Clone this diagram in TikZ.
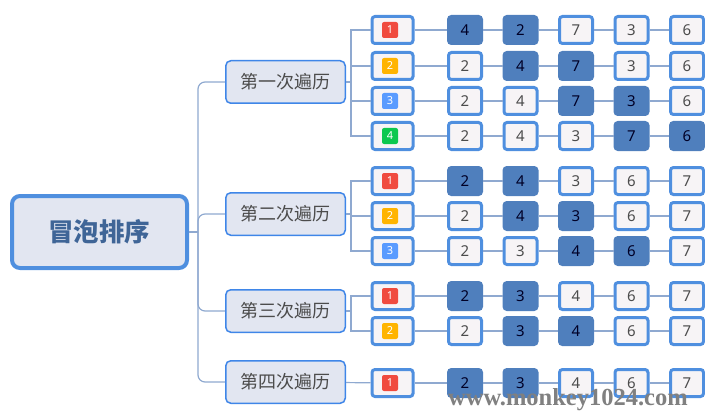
\documentclass[tikz,border=0pt]{standalone}
\usepackage{xcolor}
\usepackage{fontspec}
\setmainfont{Noto Sans}
\newfontfamily\cjk{Noto Sans CJK SC}
\newfontfamily\markfont{Liberation Serif}
\usetikzlibrary{positioning}
\definecolor{edgeblue}{HTML}{4F8FDF}
\definecolor{passblue}{HTML}{3F86E8}
\definecolor{hotblue}{HTML}{4F7FBD}
\definecolor{linkblue}{HTML}{8FA9D0}
\definecolor{paleblue}{HTML}{E2E6F1}
\definecolor{palecell}{HTML}{F7F4F6}
\definecolor{badred}{HTML}{F04B3F}
\definecolor{badyellow}{HTML}{FFB400}
\definecolor{badblue}{HTML}{5A9BFF}
\definecolor{badgreen}{HTML}{0CC84F}
\tikzstyle{rootbox} = [draw=edgeblue, line width=4pt, fill=paleblue, rounded corners=8pt, minimum width=175pt, minimum height=72pt, text=hotblue!80!black, font=\cjk\bfseries\fontsize{25.5}{28}\selectfont]
\tikzstyle{passbox} = [draw=passblue, line width=1.5pt, fill=paleblue, rounded corners=5pt, minimum width=119.5pt, minimum height=42.5pt, text=black!70, font=\cjk\fontsize{18}{20}\selectfont]
\tikzstyle{tagbox} = [draw=edgeblue, line width=3pt, fill=palecell, rounded corners=3pt, minimum width=41pt, minimum height=27pt]
\tikzstyle{cell} = [draw=edgeblue, line width=3pt, fill=palecell, rounded corners=3pt, minimum width=33pt, minimum height=27pt, text=black!70, font=\fontsize{15}{17}\selectfont]
\tikzstyle{hot} = [cell, draw=hotblue, fill=hotblue, text=black!85!blue]
\tikzstyle{badge} = [rounded corners=2pt, minimum size=16pt, inner sep=0pt, xshift=-2.5pt, text=white, font=\bfseries\fontsize{11}{12}\selectfont]
\tikzstyle{link} = [draw=linkblue, line width=1.2pt]
\tikzstyle{trunk} = [link, rounded corners=7pt, to path={|- (\tikztotarget)}]
\tikzstyle{limb} = [link, to path={-- ++(5,0) |- (\tikztotarget)}]
\begin{document}
\begin{tikzpicture}[x=1pt, y=-1pt, node distance=55.5pt]
\useasboundingbox (0,0) rectangle (705,412);

% Root and passes
\node (root) [rootbox] at (99.5,232) {冒泡排序};
\node (passa) [passbox] at (285.5,82) {第一次遍历};
\node (passb) [passbox] at (285.5,214) {第二次遍历};
\node (passc) [passbox] at (285.5,311) {第三次遍历};
\node (passd) [passbox] at (285.5,382) {第四次遍历};
\coordinate (fork) at (198,232);

% First pass
\node (taga) [tagbox] at (392.5,30) {};
\node (tagb) [tagbox] at (392.5,66) {};
\node (tagc) [tagbox] at (392.5,101) {};
\node (tagd) [tagbox] at (392.5,136) {};
\node (a1) [hot, right of=taga, xshift=17pt] {4};
\node (a2) [hot, right of=a1] {2};
\node (a3) [cell, right of=a2] {7};
\node (a4) [cell, right of=a3] {3};
\node (a5) [cell, right of=a4] {6};
\node (b1) [cell, right of=tagb, xshift=17pt] {2};
\node (b2) [hot, right of=b1] {4};
\node (b3) [hot, right of=b2] {7};
\node (b4) [cell, right of=b3] {3};
\node (b5) [cell, right of=b4] {6};
\node (c1) [cell, right of=tagc, xshift=17pt] {2};
\node (c2) [cell, right of=c1] {4};
\node (c3) [hot, right of=c2] {7};
\node (c4) [hot, right of=c3] {3};
\node (c5) [cell, right of=c4] {6};
\node (d1) [cell, right of=tagd, xshift=17pt] {2};
\node (d2) [cell, right of=d1] {4};
\node (d3) [cell, right of=d2] {3};
\node (d4) [hot, right of=d3] {7};
\node (d5) [hot, right of=d4] {6};

% Second pass
\node (tage) [tagbox] at (392.5,181) {};
\node (tagf) [tagbox] at (392.5,216) {};
\node (tagg) [tagbox] at (392.5,251) {};
\node (e1) [hot, right of=tage, xshift=17pt] {2};
\node (e2) [hot, right of=e1] {4};
\node (e3) [cell, right of=e2] {3};
\node (e4) [cell, right of=e3] {6};
\node (e5) [cell, right of=e4] {7};
\node (f1) [cell, right of=tagf, xshift=17pt] {2};
\node (f2) [hot, right of=f1] {4};
\node (f3) [hot, right of=f2] {3};
\node (f4) [cell, right of=f3] {6};
\node (f5) [cell, right of=f4] {7};
\node (g1) [cell, right of=tagg, xshift=17pt] {2};
\node (g2) [cell, right of=g1] {3};
\node (g3) [hot, right of=g2] {4};
\node (g4) [hot, right of=g3] {6};
\node (g5) [cell, right of=g4] {7};

% Third pass
\node (tagh) [tagbox] at (392.5,296) {};
\node (tagi) [tagbox] at (392.5,331) {};
\node (h1) [hot, right of=tagh, xshift=17pt] {2};
\node (h2) [hot, right of=h1] {3};
\node (h3) [cell, right of=h2] {4};
\node (h4) [cell, right of=h3] {6};
\node (h5) [cell, right of=h4] {7};
\node (i1) [cell, right of=tagi, xshift=17pt] {2};
\node (i2) [hot, right of=i1] {3};
\node (i3) [hot, right of=i2] {4};
\node (i4) [cell, right of=i3] {6};
\node (i5) [cell, right of=i4] {7};

% Fourth pass
\node (tagj) [tagbox] at (392.5,383) {};
\node (j1) [hot, right of=tagj, xshift=17pt] {2};
\node (j2) [hot, right of=j1] {3};
\node (j3) [cell, right of=j2] {4};
\node (j4) [cell, right of=j3] {6};
\node (j5) [cell, right of=j4] {7};

% Badges
\node (marka) [badge, fill=badred] at (taga) {1};
\node (markb) [badge, fill=badyellow] at (tagb) {2};
\node (markc) [badge, fill=badblue] at (tagc) {3};
\node (markd) [badge, fill=badgreen] at (tagd) {4};
\node (marke) [badge, fill=badred] at (tage) {1};
\node (markf) [badge, fill=badyellow] at (tagf) {2};
\node (markg) [badge, fill=badblue] at (tagg) {3};
\node (markh) [badge, fill=badred] at (tagh) {1};
\node (marki) [badge, fill=badyellow] at (tagi) {2};
\node (markj) [badge, fill=badred] at (tagj) {1};

% Branches
\draw [link] (root.east) -- (fork);
\draw [trunk] (fork) to (passa.west);
\draw [trunk] (fork) to (passb.west);
\draw [trunk] (fork) to (passc.west);
\draw [trunk] (fork) to (passd.west);
\draw [limb] (passa.east) to (taga.west);
\draw [limb] (passa.east) to (tagb.west);
\draw [limb] (passa.east) to (tagc.west);
\draw [limb] (passa.east) to (tagd.west);
\draw [limb] (passb.east) to (tage.west);
\draw [limb] (passb.east) to (tagf.west);
\draw [limb] (passb.east) to (tagg.west);
\draw [limb] (passc.east) to (tagh.west);
\draw [limb] (passc.east) to (tagi.west);
\draw [link] (passd) -- (tagj);

% Rows
\draw [link] (taga) -- (a1) -- (a2) -- (a3) -- (a4) -- (a5);
\draw [link] (tagb) -- (b1) -- (b2) -- (b3) -- (b4) -- (b5);
\draw [link] (tagc) -- (c1) -- (c2) -- (c3) -- (c4) -- (c5);
\draw [link] (tagd) -- (d1) -- (d2) -- (d3) -- (d4) -- (d5);
\draw [link] (tage) -- (e1) -- (e2) -- (e3) -- (e4) -- (e5);
\draw [link] (tagf) -- (f1) -- (f2) -- (f3) -- (f4) -- (f5);
\draw [link] (tagg) -- (g1) -- (g2) -- (g3) -- (g4) -- (g5);
\draw [link] (tagh) -- (h1) -- (h2) -- (h3) -- (h4) -- (h5);
\draw [link] (tagi) -- (i1) -- (i2) -- (i3) -- (i4) -- (i5);
\draw [link] (tagj) -- (j1) -- (j2) -- (j3) -- (j4) -- (j5);

% Watermark
\node (site) [text=black!50, font=\markfont\bfseries\fontsize{24.5}{26}\selectfont] at (568,400) {www.monkey1024.com};

\end{tikzpicture}
\end{document}
